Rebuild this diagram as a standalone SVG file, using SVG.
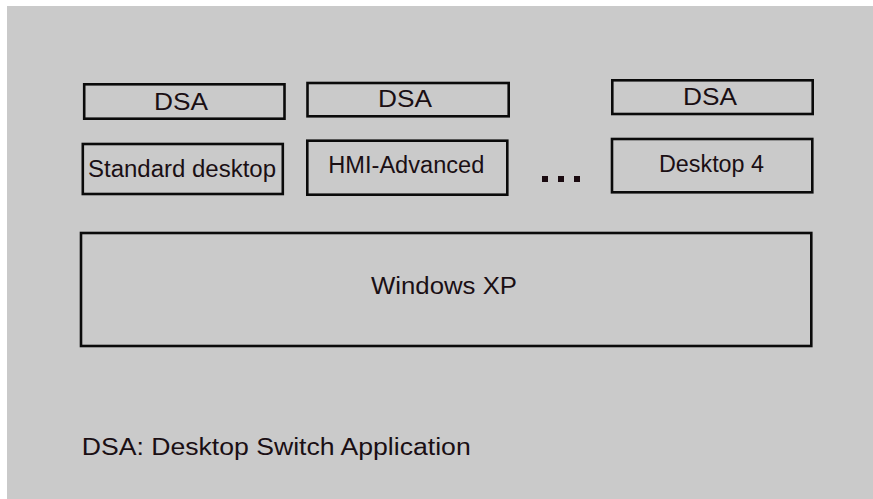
<svg xmlns="http://www.w3.org/2000/svg" width="873" height="499" viewBox="0 0 873 499">
<style>
.box{fill:none;stroke:#0a0a0a;stroke-width:2.6}
.t{font-family:"Liberation Sans",Arial,sans-serif;fill:#1a0f14;font-size:23px}
.dot{fill:#1a0a10}
</style>
<rect x="0" y="0" width="873" height="499" fill="#ffffff"/>
<rect x="7" y="6" width="866" height="493" fill="#cacaca"/>
<g id="dsa1"><rect class="box" x="84.2" y="84.3" width="200.3" height="34.4"/><text class="t" x="154" y="110" textLength="54" lengthAdjust="spacingAndGlyphs">DSA</text></g>
<g id="dsa2"><rect class="box" x="307.5" y="83" width="201.2" height="33.3"/><text class="t" x="378" y="106.7" textLength="54" lengthAdjust="spacingAndGlyphs">DSA</text></g>
<g id="dsa3"><rect class="box" x="612.3" y="80.3" width="200.4" height="33.7"/><text class="t" x="683" y="104.7" textLength="54" lengthAdjust="spacingAndGlyphs">DSA</text></g>
<g id="standard-desktop"><rect class="box" x="82.8" y="144" width="200" height="50"/><text class="t" x="88" y="176.5" textLength="188" lengthAdjust="spacingAndGlyphs">Standard desktop</text></g>
<g id="hmi-advanced"><rect class="box" x="307.3" y="140.7" width="200" height="54"/><text class="t" x="328.3" y="173.3" textLength="156" lengthAdjust="spacingAndGlyphs">HMI-Advanced</text></g>
<g id="desktop4"><rect class="box" x="612" y="139" width="200.3" height="53.3"/><text class="t" x="659" y="172.3" textLength="105" lengthAdjust="spacingAndGlyphs">Desktop 4</text></g>
<g id="ellipsis"><rect class="dot" x="542" y="176" width="6" height="6"/><rect class="dot" x="558" y="176" width="6" height="6"/><rect class="dot" x="574" y="176" width="6" height="6"/></g>
<g id="windows-xp"><rect class="box" x="81" y="233" width="730.3" height="113"/><text class="t" x="371" y="294.3" textLength="146" lengthAdjust="spacingAndGlyphs">Windows XP</text></g>
<g id="legend"><text class="t" x="81.7" y="455" textLength="389" lengthAdjust="spacingAndGlyphs">DSA: Desktop Switch Application</text></g>
<g id="connectors"></g>
</svg>
